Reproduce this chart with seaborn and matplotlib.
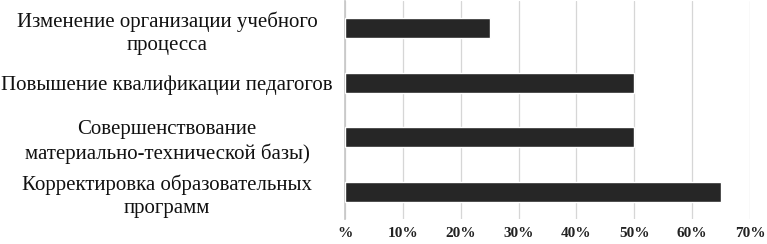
import matplotlib
matplotlib.use("Agg")
import matplotlib.pyplot as plt
import pandas as pd
import seaborn as sns

categories = [
    "Изменение организации учебного\nпроцесса",
    "Повышение квалификации педагогов",
    "Совершенствование\nматериально-технической базы)",
    "Корректировка образовательных\nпрограмм",
]
values = [25, 50, 50, 65]
x_ticks = [0, 10, 20, 30, 40, 50, 60, 70]
x_tick_labels = ["%", "10%", "20%", "30%", "40%", "50%", "60%", "70%"]

df = pd.DataFrame({"category": categories, "value": values})

sns.set_theme(style="white")
plt.rcParams["font.family"] = ["Liberation Serif", "DejaVu Serif"]

fig = plt.figure(figsize=(7.67, 2.44), dpi=100)
ax = fig.add_axes([345 / 767, 1 - 219 / 244, (750 - 345) / 767, 218 / 244])

sns.barplot(data=df, x="value", y="category", color="#262626", width=0.36,
            saturation=1, ax=ax, zorder=3)

ax.set_xlim(0, 70)
ax.set_xticks(x_ticks)
ax.set_xticklabels(x_tick_labels, fontsize=11, fontweight="semibold", color="#222222")
ax.grid(axis="x", color="#d6d6d6", linewidth=0.9, zorder=0)
ax.set_xlabel("")
ax.set_ylabel("")
for s in ["top", "right", "bottom"]:
    ax.spines[s].set_visible(False)
ax.spines["left"].set_color("#c8c8c8")
ax.tick_params(axis="x", length=0, pad=6)
ax.tick_params(axis="y", length=0, pad=128)
for lbl in ax.get_yticklabels():
    lbl.set_ha("center")
    lbl.set_multialignment("center")
    lbl.set_fontsize(15)
    lbl.set_linespacing(1.3)
    lbl.set_color("#111111")

fig.savefig("out.png", dpi=100)
